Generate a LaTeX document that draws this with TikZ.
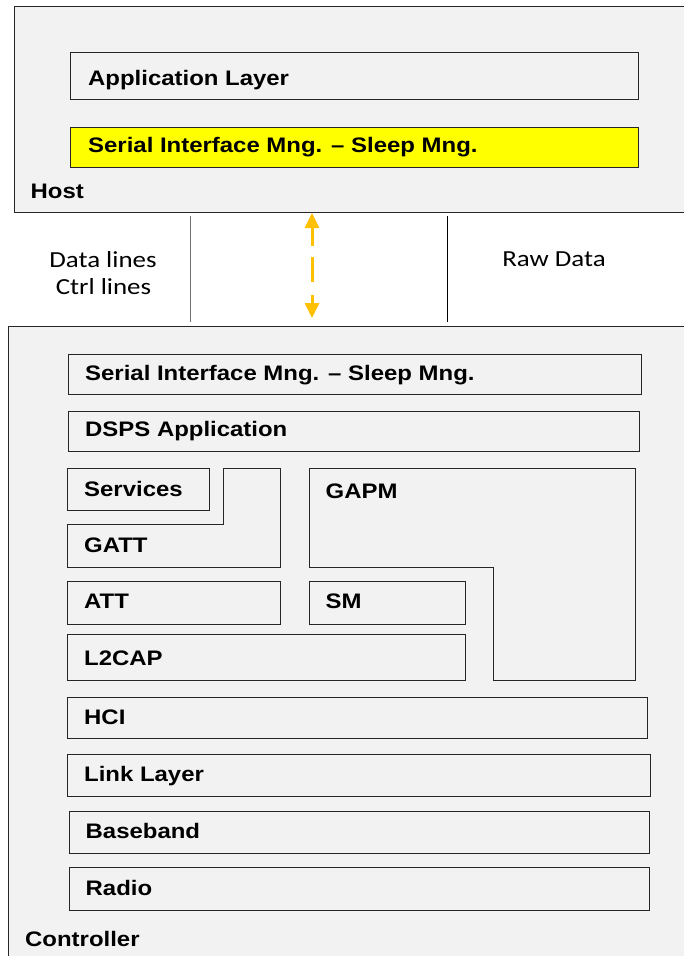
\documentclass[tikz,border=0pt]{standalone}
\usepackage{fontspec}
\setmainfont{Liberation Sans}
\newfontfamily\calibfont{Carlito}
\usetikzlibrary{arrows.meta}
\definecolor{panel}{HTML}{F2F2F2}
\definecolor{amber}{HTML}{FFC000}
\definecolor{edge}{HTML}{262626}
\definecolor{hiyellow}{HTML}{FFFF00}
\newcommand\stretchB[1]{\scalebox{1.14}[1]{#1}}
\newcommand\stretchC[1]{\scalebox{1.17}[1]{#1}}
\begin{document}
\begin{tikzpicture}[x=1pt,y=-1pt,
  outerbox/.style={draw=edge, line width=1.1pt, fill=panel, inner sep=0pt, anchor=north west},
  box/.style={draw=edge, line width=1.3pt, fill=panel, inner sep=0pt, anchor=north west},
  poly/.style={draw=edge, line width=1pt, fill=panel},
  lbl/.style={anchor=base west, inner sep=0pt, font=\fontsize{21}{21}\selectfont\bfseries},
  plain/.style={anchor=base, inner sep=0pt, font=\calibfont\fontsize{23}{23}\selectfont},
  sep/.style={line width=1pt},
  link/.style={amber, line width=3pt,
    {Triangle[width=14pt,length=15pt]}-{Triangle[width=14pt,length=15pt]},
    dash pattern=on 19pt off 11pt on 25pt off 13pt}
]
\clip (0,0) rectangle (684,956);
\fill[white] (0,0) rectangle (684,956);

% Host
\node[outerbox, minimum width=686pt, minimum height=206pt] (host) at (14,6) {};
\node[box, minimum width=568pt, minimum height=47pt] (app) at (70,52) {};
\node[box, fill=hiyellow, minimum width=568pt, minimum height=40pt] (hser) at (70,127) {};
\node[lbl] (appl) at (88,85) {\stretchB{Application Layer}};
\node[lbl] (hserl) at (88,152.5) {\stretchB{Serial Interface Mng. -- Sleep Mng.}};
\node[lbl] (hostl) at (30.5,198) {\stretchB{Host}};

% interface
\coordinate (s1t) at (190,216);
\coordinate (s1b) at (190,322);
\coordinate (s2t) at (447,216);
\coordinate (s2b) at (447,322);
\draw[sep, draw=black!55] (s1t) -- (s1b);
\draw[sep, draw=black] (s2t) -- (s2b);
\coordinate (at) at (312,213);
\coordinate (ab) at (312,318);
\draw[link] (at) -- (ab);
\node[plain] (dl) at (103,267.3) {\stretchC{Data lines}};
\node[plain] (cl) at (103.5,294.3) {\stretchC{Ctrl lines}};
\node[plain] (rd) at (554,266.7) {\stretchC{Raw Data}};

% Controller
\node[outerbox, minimum width=692pt, minimum height=636pt] (ctrl) at (8,326) {};
\node[box, minimum width=573pt, minimum height=40pt] (cser) at (68,354) {};
\node[box, minimum width=571pt, minimum height=40pt] (dsps) at (68,411) {};
\node[box, minimum width=142pt, minimum height=42pt] (serv) at (67,468) {};
\draw[poly] (67,524) -- (223,524) -- (223,468) -- (280,468) -- (280,567) -- (67,567) -- cycle;
\draw[poly] (309,468) -- (635,468) -- (635,680) -- (493,680) -- (493,567) -- (309,567) -- cycle;
\node[box, minimum width=213pt, minimum height=43pt] (att) at (67,581) {};
\node[box, minimum width=156pt, minimum height=43pt] (sm) at (309,581) {};
\node[box, minimum width=398pt, minimum height=46pt] (l2cap) at (67,634) {};
\node[box, minimum width=580pt, minimum height=41pt] (hci) at (67,697) {};
\node[box, minimum width=583pt, minimum height=42pt] (ll) at (67,754) {};
\node[box, minimum width=580pt, minimum height=42pt] (bb) at (69,811) {};
\node[box, minimum width=580pt, minimum height=43pt] (radio) at (69,867) {};

\node[lbl] (cserl) at (85,380) {\stretchB{Serial Interface Mng. -- Sleep Mng.}};
\node[lbl] (dspsl) at (85,436) {\stretchB{DSPS Application}};
\node[lbl] (servl) at (84,496) {\stretchB{Services}};
\node[lbl] (gattl) at (84,552.7) {\stretchB{GATT}};
\node[lbl] (gapml) at (325.5,498) {\stretchB{GAPM}};
\node[lbl] (attl) at (84,608.5) {\stretchB{ATT}};
\node[lbl] (sml) at (325.5,608.5) {\stretchB{SM}};
\node[lbl] (l2capl) at (84,665) {\stretchB{L2CAP}};
\node[lbl] (hcil) at (84,724) {\stretchB{HCI}};
\node[lbl] (lll) at (84,781.7) {\stretchB{Link Layer}};
\node[lbl] (bbl) at (85.5,838.3) {\stretchB{Baseband}};
\node[lbl] (radiol) at (85.5,895) {\stretchB{Radio}};
\node[lbl] (ctrll) at (25,946.7) {\stretchB{Controller}};
\end{tikzpicture}
\end{document}
